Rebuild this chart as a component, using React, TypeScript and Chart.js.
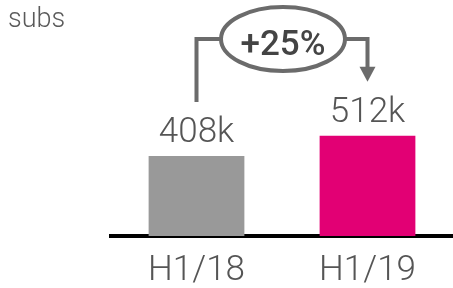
import React, { useEffect, useRef } from "react";
import { Chart, registerables } from "chart.js";

Chart.register(...registerables);

const categories = ["H1/18", "H1/19"];
const subsValues = [408, 512];
const valueLabels = ["408k", "512k"];
const growthLabel = "+25%";
const unitLabel = "subs";
const barColors = ["#999999", "#E20074"];

const FONT = "Roboto, 'Liberation Sans', sans-serif";

const annotationPlugin = {
  id: "annotations",
  afterDraw(chart: any) {
    const ctx = chart.ctx as CanvasRenderingContext2D;
    const meta = chart.getDatasetMeta(0);
    const bars = meta.data as any[];
    ctx.save();

    // unit label
    ctx.fillStyle = "#5a5a5a";
    ctx.font = `300 27px ${FONT}`;
    ctx.textAlign = "left";
    ctx.textBaseline = "alphabetic";
    ctx.fillText(unitLabel, 8, 27);

    // value labels
    ctx.font = `300 35px ${FONT}`;
    ctx.textAlign = "center";
    ctx.fillStyle = "#555555";
    const labelTops: number[] = [];
    bars.forEach((bar, i) => {
      const baseY = bar.y - 14;
      ctx.fillText(valueLabels[i], bar.x, baseY);
      labelTops.push(baseY - 25);
    });

    // growth annotation
    const x0 = bars[0].x;
    const x1 = bars[1].x;
    const cx = (x0 + x1) / 2 + 1;
    const cy = 39;
    const rx = 62;
    const ry = 32;
    ctx.strokeStyle = "#6b6b6b";
    ctx.lineWidth = 4;
    ctx.beginPath();
    ctx.ellipse(cx, cy, rx, ry, 0, 0, Math.PI * 2);
    ctx.stroke();

    ctx.beginPath();
    ctx.moveTo(x0, labelTops[0] - 15);
    ctx.lineTo(x0, cy);
    ctx.lineTo(cx - rx, cy);
    ctx.stroke();

    const tipY = labelTops[1] - 15;
    const headH = 15;
    ctx.beginPath();
    ctx.moveTo(cx + rx, cy);
    ctx.lineTo(x1, cy);
    ctx.lineTo(x1, tipY - headH + 1);
    ctx.stroke();

    ctx.fillStyle = "#6b6b6b";
    ctx.beginPath();
    ctx.moveTo(x1 - 8, tipY - headH);
    ctx.lineTo(x1 + 8, tipY - headH);
    ctx.lineTo(x1, tipY);
    ctx.closePath();
    ctx.fill();

    ctx.fillStyle = "#444444";
    ctx.font = `500 35px ${FONT}`;
    ctx.textAlign = "center";
    ctx.fillText(growthLabel, cx, 55);

    ctx.restore();
  },
};

export default function App() {
  const ref = useRef<HTMLCanvasElement | null>(null);

  useEffect(() => {
    if (!ref.current) return;
    const chart = new Chart(ref.current, {
      type: "bar",
      data: {
        labels: categories,
        datasets: [
          {
            data: subsValues,
            backgroundColor: barColors,
            borderWidth: 0,
            categoryPercentage: 1,
            barPercentage: 0.56,
          },
        ],
      },
      options: {
        animation: false,
        responsive: false,
        devicePixelRatio: 1,
        layout: { padding: { left: 111, top: 40, right: 0, bottom: -19 } },
        plugins: {
          legend: { display: false },
          tooltip: { enabled: false },
          title: { display: false },
        },
        scales: {
          x: {
            z: 1,
            grid: { display: false, drawTicks: false },
            border: { display: true, color: "#000000", width: 4 },
            ticks: {
              padding: 18,
              color: "#555555",
              font: { family: FONT, size: 35, weight: "300", lineHeight: 1 },
            },
          },
          y: {
            display: false,
            min: 0,
            max: 1000,
          },
        },
      },
      plugins: [annotationPlugin],
    });
    return () => chart.destroy();
  }, []);

  return (
    <div style={{ position: "absolute", left: 0, top: 0, width: 453, height: 288, background: "#fff" }}>
      <canvas ref={ref} width={453} height={288} style={{ display: "block" }} />
    </div>
  );
}
